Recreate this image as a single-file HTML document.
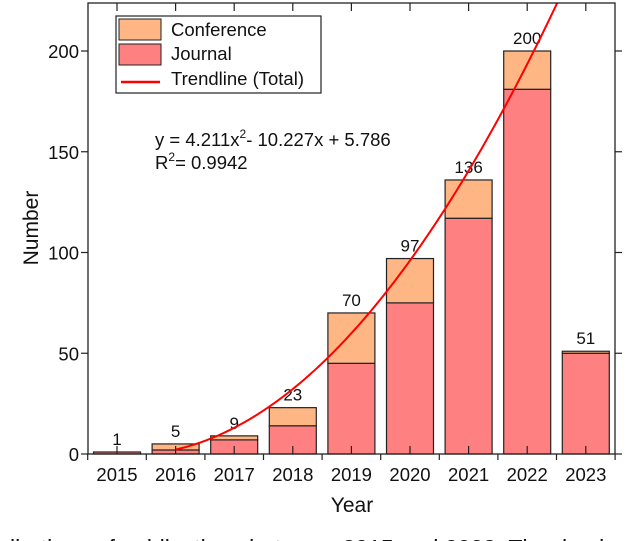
<!DOCTYPE html>
<html><head><meta charset="utf-8"><style>
html,body{margin:0;padding:0;background:#fff;width:640px;height:541px;overflow:hidden}
svg text{font-family:"Liberation Sans",Arial,sans-serif;fill:#111}
</style></head><body>
<svg id="chart" width="640" height="541" xmlns="http://www.w3.org/2000/svg"></svg>
<script>
const categories=["2015","2016","2017","2018","2019","2020","2021","2022","2023"];
const journal=[1,2,7,14,45,75,117,181,50];
const totals=[1,5,9,23,70,97,136,200,51];
const yTicks=[0,50,100,150,200];
const fitA=4.211, fitB=-10.227, fitC=5.786;

const NS="http://www.w3.org/2000/svg";
const svg=document.getElementById('chart');
const L=88,R=615,T=3,B=454;
const c0=117,step=58.6,bw=47;
const xPos=i=>c0+i*step;
const yPos=v=>B-v*2.015;
function el(tag,attrs,parent){const e=document.createElementNS(NS,tag);for(const k in attrs)e.setAttribute(k,attrs[k]);(parent||svg).appendChild(e);return e;}

categories.forEach((c,i)=>{
  const x=xPos(i)-bw/2;
  const j=el('rect',{x:x,y:yPos(journal[i]),width:bw,height:B-yPos(journal[i]),fill:'#ff8080',stroke:'#222','stroke-width':1.2});
  
  
  const conf=totals[i]-journal[i];
  if(conf>0){
    const r=el('rect',{x:x,y:yPos(totals[i]),width:bw,height:yPos(journal[i])-yPos(totals[i]),fill:'#fdb684',stroke:'#222','stroke-width':1.2});
    
    
  }
  const t=el('text',{x:xPos(i),y:yPos(totals[i])-7,'text-anchor':'middle','font-size':17});
  t.textContent=totals[i];
  
  
  const xl=el('text',{x:xPos(i),y:B+27,'text-anchor':'middle','font-size':18.5});
  xl.textContent=c;
  
  
  el('line',{x1:xPos(i),x2:xPos(i),y1:B,y2:B-8,stroke:'#222','stroke-width':1.2});
  el('line',{x1:xPos(i),x2:xPos(i),y1:T,y2:T+8,stroke:'#222','stroke-width':1.2});
});
for(let i=0;i<=categories.length;i++){
  const bx=xPos(i)-step/2;
  el('line',{x1:bx,x2:bx,y1:B,y2:B+6,stroke:'#222','stroke-width':1.2});
}
const cp=el('clipPath',{id:'clip'});
el('rect',{x:L,y:T,width:R-L,height:B-T},cp);
let d='';
for(let k=0;k<=200;k++){
  const xv=2+k*(9-2)/200;
  const yv=fitA*xv*xv+fitB*xv+fitC;
  d+=(k?'L':'M')+xPos(xv-1).toFixed(2)+','+yPos(yv).toFixed(2);
}
const tl=el('path',{d:d,fill:'none',stroke:'#f00','stroke-width':2,'clip-path':'url(#clip)'});


yTicks.forEach(v=>{
  el('line',{x1:L-7,x2:L,y1:yPos(v),y2:yPos(v),stroke:'#222','stroke-width':1.2});
  el('line',{x1:R,x2:R+7,y1:yPos(v),y2:yPos(v),stroke:'#222','stroke-width':1.2});
  const t=el('text',{x:L-9,y:yPos(v)+7,'text-anchor':'end','font-size':18.5});
  t.textContent=v;
  
  
});
const fr=el('rect',{x:L,y:T,width:R-L,height:B-T,fill:'none',stroke:'#222','stroke-width':1.3});


</script>
<svg width="640" height="541" style="position:absolute;left:0;top:0" xmlns="http://www.w3.org/2000/svg">
<g>
<rect x="116" y="16" width="205" height="77" fill="#fff" stroke="#222" stroke-width="1.2"/>
<rect x="119" y="19" width="42" height="21" fill="#fdb684" stroke="#222"/>
<text x="171" y="36" font-size="18.5">Conference</text>
<rect x="119" y="44" width="42" height="21" fill="#ff8080" stroke="#222"/>
<text x="171" y="60" font-size="18.5">Journal</text>
<line x1="121" y1="82" x2="160" y2="82" stroke="#f00" stroke-width="2.5"/>
<text x="171" y="85" font-size="18.5">Trendline (Total)</text>
</g>
<text x="155" y="146" font-size="18.5">y = 4.211x<tspan dy="-8" font-size="12">2</tspan><tspan dy="8">- 10.227x + 5.786</tspan></text>
<text x="155" y="169" font-size="18.5">R<tspan dy="-8" font-size="12">2</tspan><tspan dy="8">= 0.9942</tspan></text>
<text x="352" y="512" text-anchor="middle" font-size="21">Year</text>
<text x="38" y="228" text-anchor="middle" font-size="21" transform="rotate(-90 38 228)">Number</text>
<text x="-4" y="556" font-size="23" fill="#222">tributions of publications between 2015 and 2023. The domi</text>
</svg>
</body></html>
